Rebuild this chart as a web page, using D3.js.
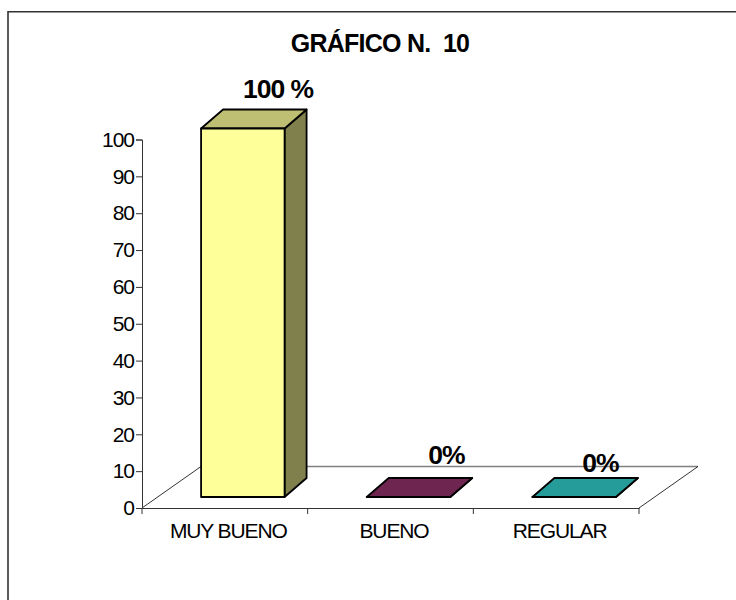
<!DOCTYPE html>
<html>
<head>
<meta charset="utf-8">
<script src="https://d3js.org/d3.v7.min.js"></script>
<style>
html,body{margin:0;padding:0;background:#fff;}
svg{display:block;}
text{font-family:"Liberation Sans",Arial,sans-serif;fill:#000;white-space:pre;}
</style>
</head>
<body>
<svg id="c" width="736" height="600"></svg>
<script>
const categories = ["MUY BUENO", "BUENO", "REGULAR"];
const values = [100, 0, 0];
const valueLabels = ["100 %", "0%", "0%"];
const colors = ["#FFFF99", "#6E2550", "#269C9A"];
const topColors = ["#BFBF73", "#6E2550", "#269C9A"];
const sideColors = ["#80804D", "#6E2550", "#269C9A"];
const yTicks = [0,10,20,30,40,50,60,70,80,90,100];
const title = "GRÁFICO N.  10";

const svg = d3.select("#c");
const x = d3.scaleBand().domain(categories).range([142, 639]).paddingInner(0).paddingOuter(0);
const y = d3.scaleLinear().domain([0, 100]).range([508, 139.5]);
const depth = {dx: 59, dy: -41.5};
const barDepth = {dx: 22, dy: -19};
const barShift = {dx: 18, dy: -11};
const barW = 83.5;

// frame: left and top edges only, as in the reference
svg.append("path").attr("d", "M8,600V11.8H736").attr("fill","none").attr("stroke","#333").attr("stroke-width",1.6);

// floor
const x0 = x.range()[0], x1 = x.range()[1], yb = y(0);
svg.append("path").attr("d", `M${x0},${yb}L${x0+depth.dx},${yb+depth.dy}`).attr("stroke","#000").attr("stroke-width",0.8);
svg.append("path").attr("d", `M${x0+depth.dx},${yb+depth.dy}H${x1+depth.dx}`).attr("stroke","#808080").attr("stroke-width",1.6).attr("fill","none");
svg.append("path").attr("d", `M${x1+depth.dx},${yb+depth.dy}L${x1},${yb}`).attr("stroke","#000").attr("stroke-width",0.8);

// bars
categories.forEach((c,i)=>{
  const l = x(c)+ (x.bandwidth()-barW)/2 + barShift.dx;
  const r = l+barW;
  const b = y(0)+barShift.dy;
  const t = y(values[i])+barShift.dy;
  const dx = barDepth.dx, dy = barDepth.dy;
  const g = svg.append("g").attr("stroke","#000").attr("stroke-width",1.8).attr("stroke-linejoin","round");
  g.append("path").attr("fill",sideColors[i]).attr("d",`M${r},${t}L${r+dx},${t+dy}V${b+dy}L${r},${b}Z`);
  g.append("path").attr("fill",topColors[i]).attr("d",`M${l},${t}L${l+dx},${t+dy}H${r+dx}L${r},${t}Z`);
  g.append("path").attr("fill",colors[i]).attr("d",`M${l},${t}H${r}V${b}H${l}Z`);
});

// axes
const yAxis = d3.axisLeft(y).tickValues(yTicks).tickSize(6).tickPadding(2);
const ya = svg.append("g").attr("transform",`translate(${x0},0)`).call(yAxis);
ya.selectAll("path,line").attr("stroke","#333").attr("stroke-width",1);
ya.selectAll("text").attr("font-size",21).attr("letter-spacing",-1);
const xa = svg.append("g").attr("transform",`translate(0,${yb})`).call(d3.axisBottom(x).tickSize(0).tickPadding(15));
xa.selectAll("path").attr("stroke","#333").attr("stroke-width",1);
xa.selectAll("line").remove();
xa.selectAll("text").attr("font-size",21).attr("letter-spacing",-1.1).attr("dx",3.5);
[...categories.map(c=>x(c)), x1].forEach(v=>{
  svg.append("line").attr("x1",v).attr("x2",v).attr("y1",yb).attr("y2",yb+6).attr("stroke","#333");
});

// labels
const labelPos = [[278,98],[446.5,463.5],[600.5,471.5]];
valueLabels.forEach((t,i)=>{
  svg.append("text").attr("x",labelPos[i][0]).attr("y",labelPos[i][1]).attr("text-anchor","middle")
    .attr("font-size",26.5).attr("font-weight","bold").attr("letter-spacing",-1).text(t);
});
svg.append("text").attr("x",380).attr("y",52).attr("text-anchor","middle")
  .attr("font-size",25).attr("font-weight","bold").attr("letter-spacing",-0.75).text(title);
</script>
</body>
</html>
